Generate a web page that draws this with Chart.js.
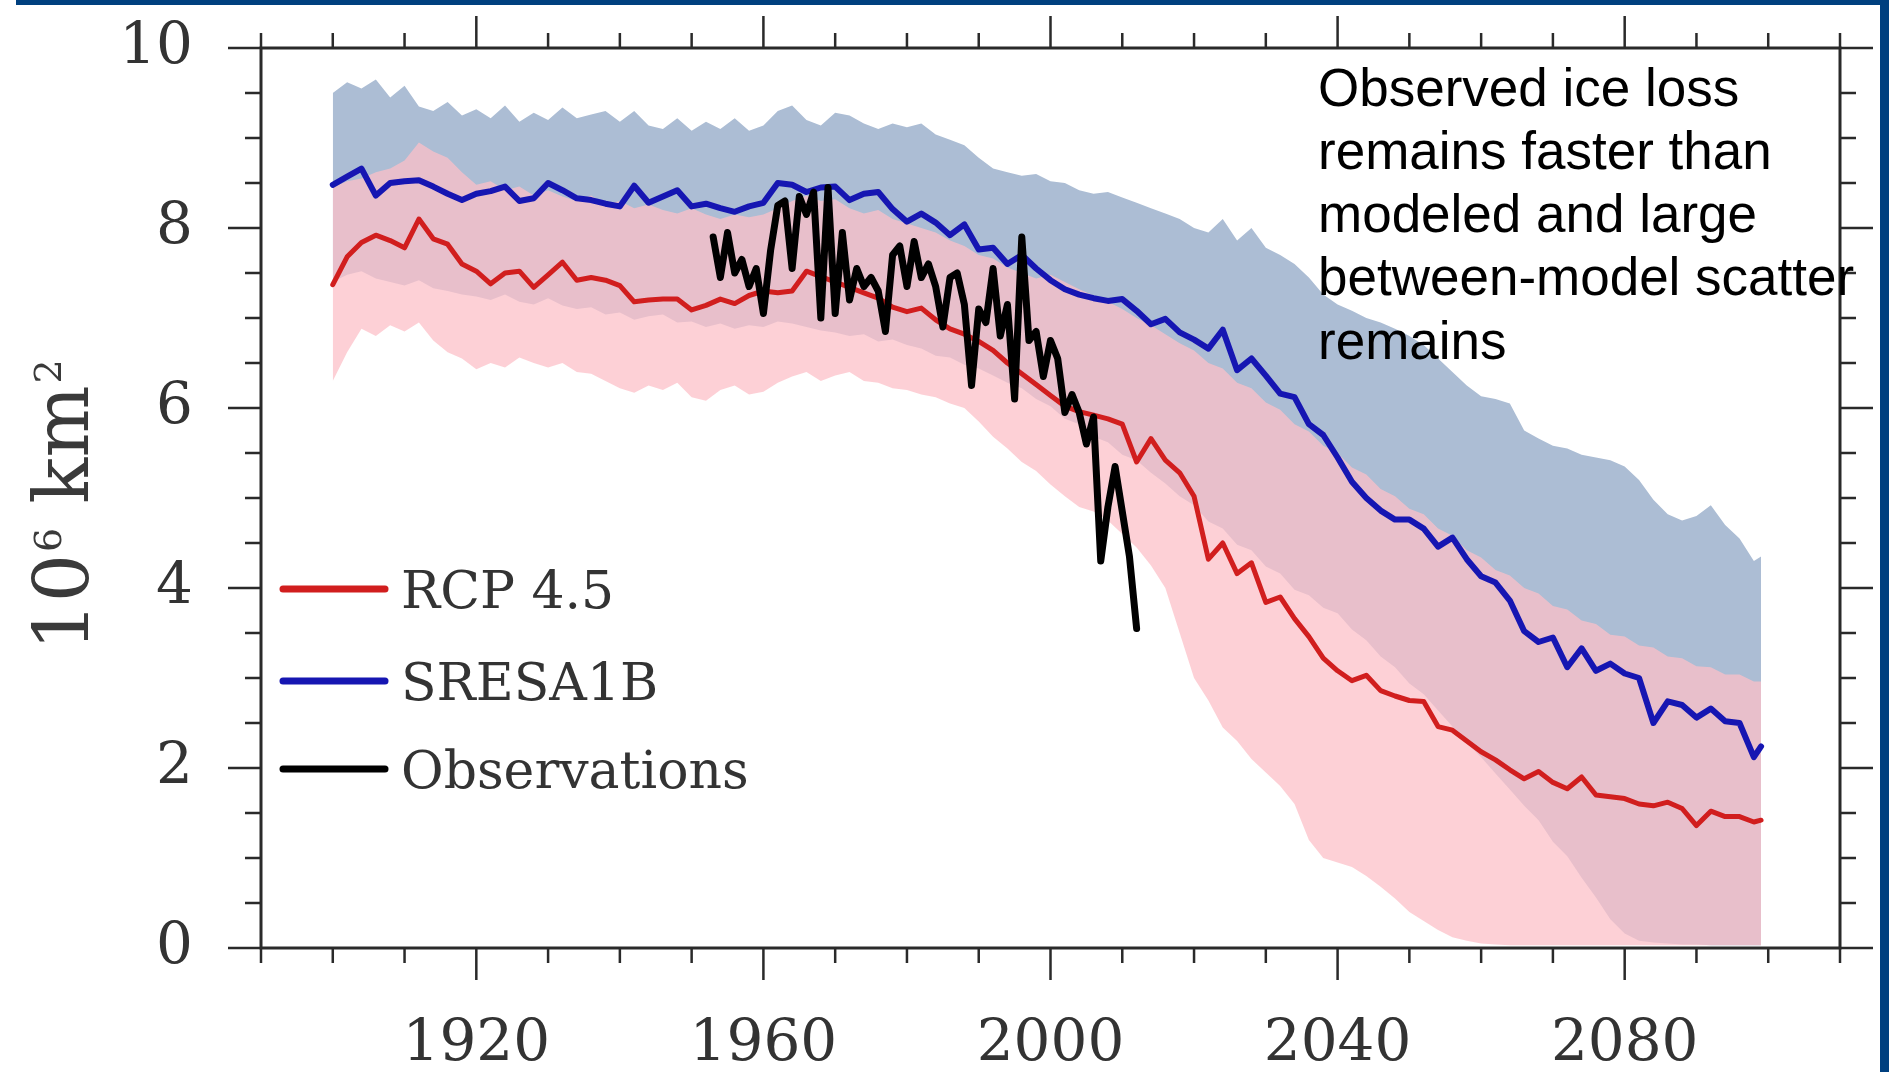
<!DOCTYPE html>
<html><head><meta charset="utf-8">
<script src="https://cdn.jsdelivr.net/npm/chart.js@4.4.1/dist/chart.umd.min.js"></script>
<style>html,body{margin:0;padding:0;background:#fff;overflow:hidden}canvas{display:block}</style>
</head><body>
<canvas id="c" width="1889" height="1072"></canvas>
<script>
// ---- categories (years) ----
const years = [1900,1902,1904,1906,1908,1910,1912,1914,1916,1918,
1920,1922,1924,1926,1928,1930,1932,1934,1936,1938,
1940,1942,1944,1946,1948,1950,1952,1954,1956,1958,
1960,1962,1964,1966,1968,1970,1972,1974,1976,1978,
1980,1982,1984,1986,1988,1990,1992,1994,1996,1998,
2000,2002,2004,2006,2008,2010,2012,2014,2016,2018,
2020,2022,2024,2026,2028,2030,2032,2034,2036,2038,
2040,2042,2044,2046,2048,2050,2052,2054,2056,2058,
2060,2062,2064,2066,2068,2070,2072,2074,2076,2078,
2080,2082,2084,2086,2088,2090,2092,2094,2096,2098,2099];

// ---- SRESA1B multi-model mean (blue line) ----
const sresMean = [8.48,8.57,8.66,8.36,8.50,8.52,8.53,8.46,8.38,8.31,
8.38,8.41,8.46,8.30,8.33,8.50,8.42,8.33,8.31,8.27,
8.24,8.47,8.28,8.35,8.42,8.24,8.27,8.22,8.18,8.24,
8.28,8.50,8.48,8.40,8.45,8.46,8.31,8.38,8.40,8.21,
8.07,8.16,8.06,7.92,8.04,7.76,7.78,7.60,7.70,7.55,
7.42,7.32,7.26,7.22,7.19,7.21,7.08,6.93,6.99,6.84,
6.76,6.66,6.87,6.42,6.55,6.36,6.16,6.12,5.82,5.70,
5.45,5.18,5.00,4.86,4.76,4.76,4.66,4.46,4.56,4.32,
4.13,4.06,3.86,3.52,3.40,3.45,3.12,3.33,3.08,3.16,
3.05,3.00,2.50,2.74,2.70,2.56,2.66,2.52,2.50,2.12,2.24];

// ---- RCP 4.5 multi-model mean (red line) ----
const rcpMean = [7.37,7.68,7.84,7.92,7.86,7.78,8.10,7.88,7.82,7.60,
7.52,7.38,7.50,7.52,7.34,7.48,7.62,7.42,7.45,7.42,
7.36,7.18,7.20,7.21,7.21,7.09,7.14,7.21,7.16,7.25,
7.30,7.28,7.30,7.52,7.46,7.40,7.34,7.28,7.22,7.12,
7.07,7.11,6.98,6.88,6.82,6.74,6.64,6.50,6.38,6.26,
6.14,6.02,5.96,5.92,5.88,5.82,5.40,5.66,5.42,5.28,
5.02,4.32,4.50,4.16,4.28,3.84,3.90,3.66,3.46,3.22,
3.08,2.97,3.03,2.86,2.80,2.75,2.74,2.46,2.42,2.30,
2.18,2.09,1.98,1.88,1.96,1.84,1.77,1.90,1.70,1.68,
1.66,1.60,1.58,1.62,1.55,1.36,1.52,1.46,1.46,1.40,1.42];

// ---- SRESA1B model range ----
const sresMax = [9.50,9.62,9.55,9.65,9.45,9.58,9.35,9.30,9.40,9.25,
9.32,9.22,9.36,9.18,9.28,9.20,9.34,9.22,9.26,9.30,
9.18,9.30,9.14,9.10,9.22,9.08,9.18,9.10,9.22,9.08,
9.14,9.30,9.36,9.20,9.14,9.28,9.25,9.16,9.10,9.16,
9.12,9.16,9.04,8.98,8.92,8.78,8.66,8.62,8.58,8.60,
8.52,8.50,8.42,8.38,8.40,8.34,8.28,8.22,8.16,8.10,
8.00,7.95,8.10,7.86,8.00,7.78,7.70,7.60,7.45,7.26,
7.15,7.08,7.00,6.95,6.88,6.80,6.70,6.55,6.40,6.25,
6.13,6.10,6.05,5.75,5.66,5.58,5.55,5.48,5.45,5.42,
5.35,5.20,4.98,4.82,4.75,4.80,4.92,4.70,4.55,4.30,4.35];
const sresMin = [7.40,7.48,7.52,7.44,7.40,7.36,7.42,7.33,7.30,7.26,
7.24,7.20,7.26,7.18,7.15,7.22,7.14,7.10,7.12,7.04,
7.06,6.98,7.02,7.04,6.95,6.96,6.90,6.94,6.88,6.92,
6.90,6.96,6.94,6.90,6.86,6.84,6.80,6.82,6.74,6.76,
6.70,6.66,6.58,6.56,6.48,6.44,6.36,6.28,6.22,6.10,
6.02,5.88,5.82,5.68,5.62,5.48,5.42,5.28,5.16,5.02,
4.92,4.74,4.66,4.48,4.42,4.24,4.16,3.98,3.92,3.78,
3.72,3.54,3.42,3.24,3.12,2.94,2.82,2.64,2.46,2.28,
2.12,1.94,1.76,1.58,1.42,1.18,1.02,0.78,0.56,0.32,
0.16,0.08,0.06,0.05,0.04,0.04,0.03,0.03,0.03,0.03,0.03];

// ---- RCP 4.5 model range ----
const rcpMax = [8.45,8.52,8.55,8.62,8.66,8.75,8.95,8.85,8.78,8.62,
8.48,8.52,8.42,8.46,8.36,8.42,8.35,8.30,8.36,8.26,
8.30,8.22,8.26,8.20,8.16,8.22,8.15,8.10,8.15,8.12,
8.15,8.22,8.30,8.36,8.30,8.32,8.22,8.16,8.20,8.10,
8.05,8.00,7.95,7.86,7.80,7.70,7.66,7.56,7.50,7.44,
7.48,7.40,7.32,7.25,7.18,7.10,7.00,6.92,6.82,6.72,
6.64,6.50,6.44,6.28,6.22,6.06,5.98,5.82,5.74,5.58,
5.50,5.34,5.26,5.10,5.02,4.88,4.82,4.66,4.58,4.42,
4.34,4.20,4.14,4.00,3.94,3.80,3.76,3.64,3.60,3.48,
3.46,3.36,3.34,3.24,3.22,3.13,3.12,3.04,3.04,2.96,2.96];
const rcpMin = [6.30,6.62,6.88,6.80,6.92,6.85,6.95,6.75,6.62,6.55,
6.43,6.50,6.45,6.56,6.50,6.45,6.50,6.40,6.38,6.30,
6.22,6.17,6.25,6.20,6.28,6.12,6.08,6.20,6.25,6.15,
6.18,6.28,6.35,6.40,6.30,6.36,6.40,6.30,6.28,6.22,
6.20,6.15,6.12,6.05,6.00,5.85,5.68,5.55,5.40,5.30,
5.15,5.02,4.90,4.85,4.75,4.60,4.45,4.25,4.00,3.50,
3.00,2.75,2.45,2.30,2.10,1.95,1.80,1.60,1.20,1.00,
0.95,0.90,0.80,0.68,0.55,0.40,0.30,0.20,0.12,0.08,
0.05,0.04,0.03,0.03,0.03,0.03,0.03,0.03,0.03,0.03,
0.03,0.03,0.03,0.03,0.03,0.03,0.03,0.03,0.03,0.03,0.03];

// ---- Observations ----
const obsYears = [1953,1954,1955,1956,1957,1958,1959,1960,1961,1962,
1963,1964,1965,1966,1967,1968,1969,1970,1971,1972,
1973,1974,1975,1976,1977,1978,1979,1980,1981,1982,
1983,1984,1985,1986,1987,1988,1989,1990,1991,1992,
1993,1994,1995,1996,1997,1998,1999,2000,2001,2002,
2003,2004,2005,2006,2007,2008,2009,2010,2011,2012];
const obsExtent = [7.90,7.45,7.95,7.50,7.65,7.35,7.55,7.05,7.75,8.25,
8.30,7.55,8.35,8.15,8.40,7.00,8.45,7.05,7.95,7.20,
7.55,7.35,7.45,7.30,6.85,7.70,7.80,7.35,7.85,7.45,
7.60,7.35,6.90,7.45,7.50,7.15,6.25,7.10,6.95,7.55,
6.80,7.15,6.10,7.90,6.75,6.85,6.35,6.75,6.55,5.95,
6.15,5.95,5.60,5.90,4.30,4.90,5.35,4.85,4.35,3.55];

// ---- tick labels / text ----
const xMajor = [1920,1960,2000,2040,2080];
const yMajor = [0,2,4,6,8,10];
const legendLabels = ['RCP 4.5','SRESA1B','Observations'];
const noteLines = ['Observed ice loss','remains faster than','modeled and large','between-model scatter','remains'];

const pts = (xs, ys) => xs.map((x, i) => ({x: x, y: ys[i]}));

const RED = '#d11e1e', BLUE = '#1616b2', BLACK = '#000000';
const legendColors = [RED, BLUE, BLACK];
const SERIF = '"DejaVu Serif", "Liberation Serif", serif';

const decor = {
  id: 'decor',
  afterDraw(chart) {
    const ctx = chart.ctx;
    const xs = chart.scales.x, ys = chart.scales.y;
    const {left: L, right: R, top: T, bottom: B} = chart.chartArea;
    ctx.save();
    // frame
    ctx.strokeStyle = '#2a2a2a';
    ctx.lineWidth = 3;
    ctx.strokeRect(L, T, R - L, B - T);
    // ticks
    ctx.lineWidth = 2.5;
    ctx.beginPath();
    for (let v = 1890; v <= 2110; v += 10) {
      const px = xs.getPixelForValue(v);
      const len = xMajor.includes(v) ? 32 : 15;
      ctx.moveTo(px, B); ctx.lineTo(px, B + len);
      ctx.moveTo(px, T); ctx.lineTo(px, T - len);
    }
    for (let k = 0; k <= 20; k++) {
      const v = k * 0.5;
      const py = ys.getPixelForValue(v);
      const len = (k % 4 === 0) ? 33 : 16;
      ctx.moveTo(L, py); ctx.lineTo(L - len, py);
      ctx.moveTo(R, py); ctx.lineTo(R + len, py);
    }
    ctx.stroke();

    // y-axis title: 10^6 km^2 (rotated)
    ctx.save();
    ctx.fillStyle = '#3a3a3a';
    const big = '76px ' + SERIF, small = '38px ' + SERIF;
    ctx.font = big; const w1 = ctx.measureText('10').width; const w3 = ctx.measureText(' km').width;
    ctx.font = small; const w2 = ctx.measureText('6').width; const w4 = ctx.measureText('2').width;
    const total = w1 + w2 + w3 + w4;
    ctx.translate(88, 507 + total / 2);
    ctx.rotate(-Math.PI / 2);
    ctx.textBaseline = 'alphabetic'; ctx.textAlign = 'left';
    let cx = 0;
    ctx.font = big; ctx.fillText('10', cx, 0); cx += w1;
    ctx.font = small; ctx.fillText('6', cx + 2, -27); cx += w2 + 2;
    ctx.font = big; ctx.fillText(' km', cx, 0); cx += w3;
    ctx.font = small; ctx.fillText('2', cx + 2, -27);
    ctx.restore();

    // legend
    const ly = [589, 681, 769];
    ctx.font = '52px ' + SERIF;
    ctx.textAlign = 'left'; ctx.textBaseline = 'alphabetic';
    for (let i = 0; i < legendLabels.length; i++) {
      ctx.strokeStyle = legendColors[i];
      ctx.lineWidth = 7;
      ctx.lineCap = 'round';
      ctx.beginPath(); ctx.moveTo(283, ly[i]); ctx.lineTo(385, ly[i]); ctx.stroke();
      ctx.fillStyle = '#333333';
      ctx.fillText(legendLabels[i], 401, ly[i] + 19);
    }

    // annotation
    ctx.fillStyle = '#000000';
    ctx.font = '53px "Liberation Sans", Arial, Helvetica, sans-serif';
    const base = [106, 169, 232, 295, 359];
    noteLines.forEach((t, i) => ctx.fillText(t, 1318, base[i]));

    // page frame (dark blue)
    ctx.fillStyle = '#00407f';
    ctx.fillRect(16, 0, chart.width - 16, 5);
    ctx.fillRect(1880, 0, chart.width - 1880, chart.height);
    ctx.restore();
  }
};

const lineDs = (label, data, color, width) => ({
  label, data, borderColor: color, borderWidth: width, pointRadius: 0,
  tension: 0, fill: false, borderJoinStyle: 'round', borderCapStyle: 'round'
});
const bandDs = (label, data, fill, bg) => ({
  label, data, borderWidth: 0, borderColor: 'rgba(0,0,0,0)', pointRadius: 0,
  tension: 0, fill: fill, backgroundColor: bg
});

new Chart(document.getElementById('c'), {
  type: 'line',
  data: {
    datasets: [
      lineDs('Observations', pts(obsYears, obsExtent), BLACK, 7),
      lineDs('SRESA1B', pts(years, sresMean), BLUE, 6),
      lineDs('RCP 4.5', pts(years, rcpMean), RED, 5),
      bandDs('RCP 4.5 max', pts(years, rcpMax), '+1', 'rgba(252,192,200,0.75)'),
      bandDs('RCP 4.5 min', pts(years, rcpMin), false, 'rgba(0,0,0,0)'),
      bandDs('SRESA1B max', pts(years, sresMax), '+1', 'rgb(172,189,212)'),
      bandDs('SRESA1B min', pts(years, sresMin), false, 'rgba(0,0,0,0)')
    ]
  },
  options: {
    responsive: false,
    devicePixelRatio: 1,
    animation: false,
    events: [],
    layout: {autoPadding: false, padding: {left: 0, right: 49, top: 48, bottom: 0}},
    plugins: {legend: {display: false}, tooltip: {enabled: false}, title: {display: false}},
    scales: {
      x: {
        type: 'linear', position: 'bottom', min: 1890, max: 2110,
        grid: {display: false, drawTicks: false}, border: {display: false},
        afterBuildTicks: s => { s.ticks = xMajor.map(v => ({value: v})); },
        afterFit: s => { s.height = 124; s.paddingLeft = 0; s.paddingRight = 0; s.paddingTop = 0; s.paddingBottom = 0; },
        ticks: {
          autoSkip: false, maxRotation: 0, padding: 62,
          color: '#333333', font: {family: SERIF, size: 58},
          callback: v => String(v)
        }
      },
      y: {
        type: 'linear', position: 'left', min: 0, max: 10,
        grid: {display: false, drawTicks: false}, border: {display: false},
        afterBuildTicks: s => { s.ticks = yMajor.map(v => ({value: v})); },
        afterFit: s => { s.width = 261; s.paddingLeft = 0; s.paddingRight = 0; s.paddingTop = 0; s.paddingBottom = 0; },
        ticks: {
          autoSkip: false, padding: 68,
          color: '#333333', font: {family: SERIF, size: 58},
          callback: v => String(v)
        }
      }
    }
  },
  plugins: [decor]
});
</script>
</body></html>
